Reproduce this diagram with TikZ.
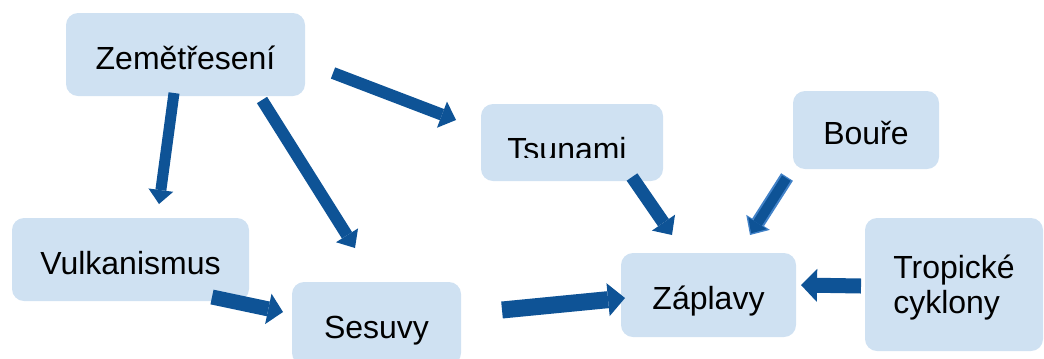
\documentclass[tikz,border=0pt]{standalone}
\usepackage{fontspec}
\setmainfont{Liberation Sans}
\usetikzlibrary{arrows.meta}

\definecolor{boxblue}{RGB}{207,225,242}
\definecolor{arrowblue}{RGB}{14,83,150}
\definecolor{edgeblue}{RGB}{66,130,200}

\begin{document}
\begin{tikzpicture}[x = 0.75pt, y = -0.75pt,
	box/.style = {fill = boxblue, rounded corners = 9pt, inner sep = 0pt,
		font = \fontsize{24}{26.25}\selectfont, text height = 21.75pt, text depth = 0pt},
	arr/.style n args = {3}{draw = arrowblue, line width = #1,
		-{Triangle[width = #2, length = #3, line width = 0pt]}}]
	\clip (0,0) rectangle (1044,358);

	% boxes
	\node[box, minimum width = 179.25pt, minimum height = 62.25pt] (zem) at (185.5,54.5) {Zemětřesení};
	\node[box, minimum width = 177.75pt, minimum height = 62.25pt] (vulk) at (130.5,259.5) {Vulkanismus};
	\node[box, minimum width = 126.75pt, minimum height = 62.25pt] (ses) at (376.5,323.5) {Sesuvy};
	\node[box, minimum width = 136.5pt, minimum height = 57.75pt] (tsu) at (572,142.5) {};
	\begin{scope}
		\clip (481,104) rectangle (663,157);
		\node[box, fill = none] (tsutext) at (567,145.5) {Tsunami};
	\end{scope}
	\node[box, minimum width = 109.5pt, minimum height = 58.5pt] (bou) at (866,130) {Bouře};
	\node[box, minimum width = 131.25pt, minimum height = 63pt] (zap) at (708.5,295) {Záplavy};
	\node[box, minimum width = 133.5pt, minimum height = 99.75pt, align = left,
		text height = 47.75pt, text depth = 5pt] (trop) at (954,284.5) {Tropické\\cyklony};

	% arrow ends
	\coordinate (zem-v) at (174,93);   \coordinate (v-in) at (159,204);
	\coordinate (zem-s) at (262,100);  \coordinate (s-in) at (355,248);
	\coordinate (zem-t) at (333,73);   \coordinate (t-in) at (456,120);
	\coordinate (v-s) at (212,297);    \coordinate (s-in2) at (283,312);
	\coordinate (s-z) at (502,310);    \coordinate (z-in1) at (625,298);
	\coordinate (t-z) at (632,177);    \coordinate (z-in2) at (672,235);
	\coordinate (b-z) at (787,177);    \coordinate (z-in3) at (750,235);
	\coordinate (tr-z) at (861,286);   \coordinate (z-in4) at (801,285);

	% arrows
	\draw[arr = {8.25pt}{18.75pt}{10.5pt}] (zem-v) -- (v-in);
	\draw[arr = {9pt}{19.5pt}{11.25pt}] (zem-s) -- (s-in);
	\draw[arr = {9pt}{21pt}{11.25pt}] (zem-t) -- (t-in);
	\draw[arr = {11.25pt}{23.25pt}{11.25pt}] (v-s) -- (s-in2);
	\draw[arr = {12.75pt}{24.75pt}{12.75pt}] (s-z) -- (z-in1);
	\draw[arr = {9.75pt}{21pt}{11.25pt}] (t-z) -- (z-in2);
	\draw[arr = {10.5pt}{21pt}{11.25pt}, draw = edgeblue] (b-z) -- (z-in3);
	\draw[arr = {7.5pt}{16.5pt}{9pt}, shorten > = 1.5pt, shorten < = 1pt] (b-z) -- (z-in3);
	\draw[arr = {11.25pt}{24.75pt}{12pt}] (tr-z) -- (z-in4);
\end{tikzpicture}
\end{document}
